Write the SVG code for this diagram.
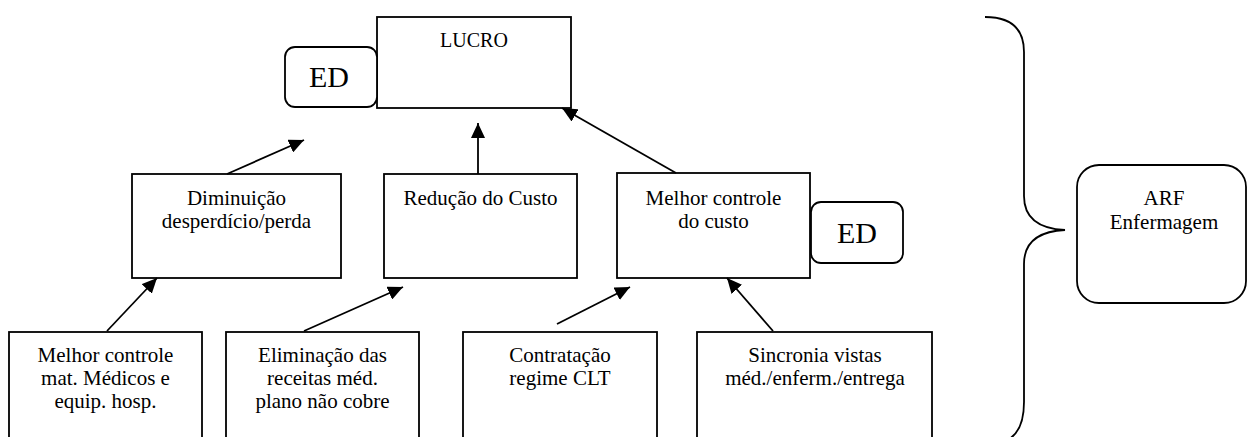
<svg xmlns="http://www.w3.org/2000/svg" width="1247" height="437" viewBox="0 0 1247 437">
<style>
  .box{fill:#fff;stroke:#000;stroke-width:1.8}
  .t{font-family:'Liberation Serif','Tinos','Times New Roman',serif;font-size:21px;fill:#000;text-anchor:middle}
  .big{font-size:30px}
  .c{stroke:#000;stroke-width:1.8;fill:none}
</style>
<defs>
  <marker id="ah" markerUnits="userSpaceOnUse" markerWidth="16" markerHeight="14" refX="15" refY="7" orient="auto">
    <path d="M0,0 L15,7 L0,14 z" fill="#000"/>
  </marker>
</defs>
<rect width="1247" height="437" fill="#fff"/>

<g id="lucro">
  <rect class="box" x="377" y="17" width="194" height="91"/>
  <text class="t" x="474" y="47" style="font-size:20px">LUCRO</text>
</g>
<g id="ed1">
  <rect class="box" x="285" y="47" width="92" height="60" rx="10"/>
  <text class="t big" x="329" y="87">ED</text>
</g>
<g id="diminuicao">
  <rect class="box" x="132" y="174" width="209" height="104"/>
  <text class="t" x="236.5" y="205">Diminuição</text>
  <text class="t" x="236.5" y="228">desperdício/perda</text>
</g>
<g id="reducao">
  <rect class="box" x="384" y="174" width="193" height="104"/>
  <text class="t" x="480.5" y="205">Redução do Custo</text>
</g>
<g id="melhor-custo">
  <rect class="box" x="617" y="173" width="193" height="105"/>
  <text class="t" x="713.5" y="205">Melhor controle</text>
  <text class="t" x="713.5" y="228">do custo</text>
</g>
<g id="ed2">
  <rect class="box" x="811" y="202" width="92" height="61" rx="10"/>
  <text class="t big" x="857" y="243">ED</text>
</g>
<g id="melhor-mat">
  <rect class="box" x="9" y="332" width="193" height="120"/>
  <text class="t" x="105.5" y="362">Melhor controle</text>
  <text class="t" x="105.5" y="385">mat. Médicos e</text>
  <text class="t" x="105.5" y="408">equip. hosp.</text>
</g>
<g id="eliminacao">
  <rect class="box" x="226" y="332" width="193" height="120"/>
  <text class="t" x="322.5" y="362">Eliminação das</text>
  <text class="t" x="322.5" y="385">receitas méd.</text>
  <text class="t" x="322.5" y="408">plano não cobre</text>
</g>
<g id="contratacao">
  <rect class="box" x="463" y="332" width="194" height="120"/>
  <text class="t" x="560" y="362">Contratação</text>
  <text class="t" x="560" y="385">regime CLT</text>
</g>
<g id="sincronia">
  <rect class="box" x="697" y="332" width="235" height="120"/>
  <text class="t" x="815" y="362">Sincronia vistas</text>
  <text class="t" x="815" y="385">méd./enferm./entrega</text>
</g>
<g id="arf">
  <rect class="box" x="1077" y="165" width="169" height="138" rx="22"/>
  <text class="t" x="1164" y="205">ARF</text>
  <text class="t" x="1164" y="229">Enfermagem</text>
</g>
<g id="brace">
  <path class="c" d="M985,17 Q1024,17 1024,52 L1024,196 Q1024,228 1065,230 Q1024,232 1024,264 L1024,402 Q1024,436 1002,442"/>
</g>

<g id="connectors">
  <line class="c" x1="227" y1="174" x2="304" y2="140" marker-end="url(#ah)"/>
  <line class="c" x1="478" y1="174" x2="478" y2="123" marker-end="url(#ah)"/>
  <line class="c" x1="676" y1="173" x2="562" y2="108" marker-end="url(#ah)"/>
  <line class="c" x1="107" y1="331" x2="157" y2="278" marker-end="url(#ah)"/>
  <line class="c" x1="304" y1="331" x2="403" y2="287" marker-end="url(#ah)"/>
  <line class="c" x1="557" y1="324" x2="630" y2="287" marker-end="url(#ah)"/>
  <line class="c" x1="773" y1="331" x2="727" y2="278" marker-end="url(#ah)"/>
</g>
</svg>
